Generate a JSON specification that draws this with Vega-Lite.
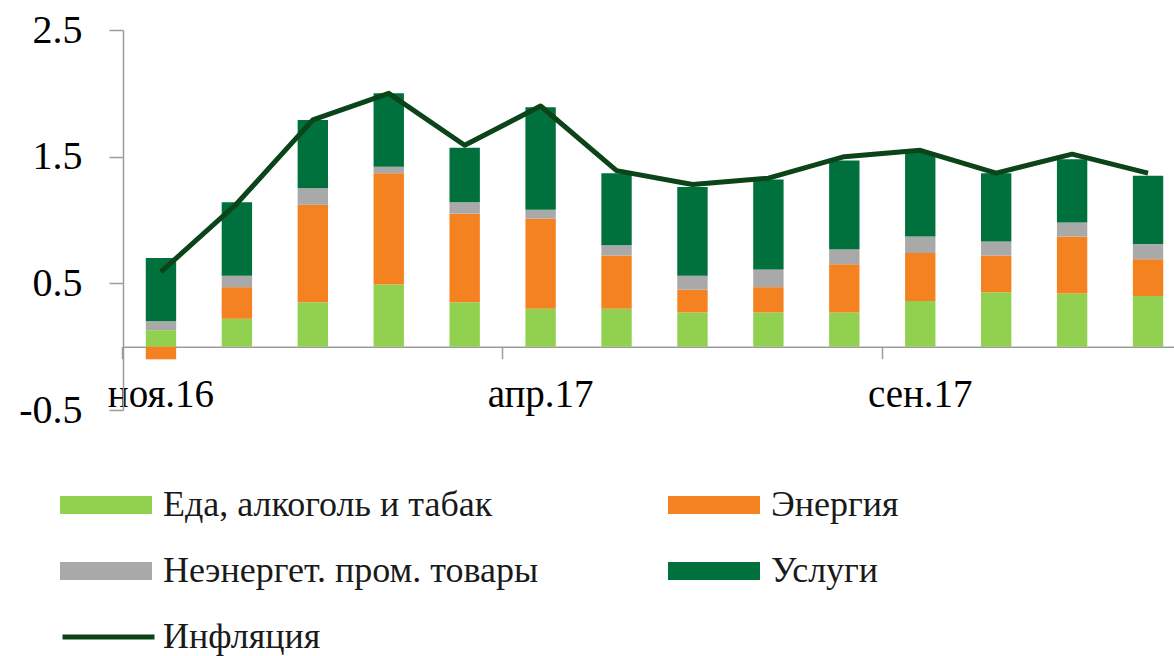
{
  "$schema": "https://vega.github.io/schema/vega-lite/v6.json",
  "width": 1051,
  "height": 380,
  "autosize": "none",
  "padding": {"left": 123, "top": 30, "right": 0, "bottom": 246},
  "background": "white",
  "config": {
    "view": {"stroke": null},
    "font": "Liberation Serif",
    "axis": {"grid": false, "domainColor": "#9c9c9c", "tickColor": "#9c9c9c", "domainWidth": 1.5, "tickWidth": 1.5, "labelFont": "Liberation Serif", "labelColor": "#000000", "titleFont": "Liberation Serif"},
    "legend": {"labelFont": "Liberation Serif", "labelColor": "#1a1a1a"}
  },
  "datasets": {
    "bars": [
      {"month": "ноя.16", "cat": "Еда, алкоголь и табак", "value": 0.13},
      {"month": "ноя.16", "cat": "Энергия", "value": -0.10},
      {"month": "ноя.16", "cat": "Неэнергет. пром. товары", "value": 0.07},
      {"month": "ноя.16", "cat": "Услуги", "value": 0.50},
      {"month": "дек.16", "cat": "Еда, алкоголь и табак", "value": 0.22},
      {"month": "дек.16", "cat": "Энергия", "value": 0.25},
      {"month": "дек.16", "cat": "Неэнергет. пром. товары", "value": 0.09},
      {"month": "дек.16", "cat": "Услуги", "value": 0.58},
      {"month": "янв.17", "cat": "Еда, алкоголь и табак", "value": 0.35},
      {"month": "янв.17", "cat": "Энергия", "value": 0.77},
      {"month": "янв.17", "cat": "Неэнергет. пром. товары", "value": 0.13},
      {"month": "янв.17", "cat": "Услуги", "value": 0.54},
      {"month": "фев.17", "cat": "Еда, алкоголь и табак", "value": 0.49},
      {"month": "фев.17", "cat": "Энергия", "value": 0.88},
      {"month": "фев.17", "cat": "Неэнергет. пром. товары", "value": 0.05},
      {"month": "фев.17", "cat": "Услуги", "value": 0.58},
      {"month": "мар.17", "cat": "Еда, алкоголь и табак", "value": 0.35},
      {"month": "мар.17", "cat": "Энергия", "value": 0.70},
      {"month": "мар.17", "cat": "Неэнергет. пром. товары", "value": 0.09},
      {"month": "мар.17", "cat": "Услуги", "value": 0.43},
      {"month": "апр.17", "cat": "Еда, алкоголь и табак", "value": 0.30},
      {"month": "апр.17", "cat": "Энергия", "value": 0.71},
      {"month": "апр.17", "cat": "Неэнергет. пром. товары", "value": 0.07},
      {"month": "апр.17", "cat": "Услуги", "value": 0.81},
      {"month": "май.17", "cat": "Еда, алкоголь и табак", "value": 0.30},
      {"month": "май.17", "cat": "Энергия", "value": 0.42},
      {"month": "май.17", "cat": "Неэнергет. пром. товары", "value": 0.08},
      {"month": "май.17", "cat": "Услуги", "value": 0.57},
      {"month": "июн.17", "cat": "Еда, алкоголь и табак", "value": 0.27},
      {"month": "июн.17", "cat": "Энергия", "value": 0.18},
      {"month": "июн.17", "cat": "Неэнергет. пром. товары", "value": 0.11},
      {"month": "июн.17", "cat": "Услуги", "value": 0.70},
      {"month": "июл.17", "cat": "Еда, алкоголь и табак", "value": 0.27},
      {"month": "июл.17", "cat": "Энергия", "value": 0.20},
      {"month": "июл.17", "cat": "Неэнергет. пром. товары", "value": 0.14},
      {"month": "июл.17", "cat": "Услуги", "value": 0.71},
      {"month": "авг.17", "cat": "Еда, алкоголь и табак", "value": 0.27},
      {"month": "авг.17", "cat": "Энергия", "value": 0.38},
      {"month": "авг.17", "cat": "Неэнергет. пром. товары", "value": 0.12},
      {"month": "авг.17", "cat": "Услуги", "value": 0.70},
      {"month": "сен.17", "cat": "Еда, алкоголь и табак", "value": 0.36},
      {"month": "сен.17", "cat": "Энергия", "value": 0.38},
      {"month": "сен.17", "cat": "Неэнергет. пром. товары", "value": 0.13},
      {"month": "сен.17", "cat": "Услуги", "value": 0.66},
      {"month": "окт.17", "cat": "Еда, алкоголь и табак", "value": 0.43},
      {"month": "окт.17", "cat": "Энергия", "value": 0.29},
      {"month": "окт.17", "cat": "Неэнергет. пром. товары", "value": 0.11},
      {"month": "окт.17", "cat": "Услуги", "value": 0.54},
      {"month": "ноя.17", "cat": "Еда, алкоголь и табак", "value": 0.42},
      {"month": "ноя.17", "cat": "Энергия", "value": 0.45},
      {"month": "ноя.17", "cat": "Неэнергет. пром. товары", "value": 0.11},
      {"month": "ноя.17", "cat": "Услуги", "value": 0.50},
      {"month": "дек.17", "cat": "Еда, алкоголь и табак", "value": 0.40},
      {"month": "дек.17", "cat": "Энергия", "value": 0.29},
      {"month": "дек.17", "cat": "Неэнергет. пром. товары", "value": 0.12},
      {"month": "дек.17", "cat": "Услуги", "value": 0.54}
    ],
    "infl": [
      {"month": "ноя.16", "value": 0.59},
      {"month": "дек.16", "value": 1.13},
      {"month": "янв.17", "value": 1.79},
      {"month": "фев.17", "value": 2.0},
      {"month": "мар.17", "value": 1.59},
      {"month": "апр.17", "value": 1.90},
      {"month": "май.17", "value": 1.39},
      {"month": "июн.17", "value": 1.28},
      {"month": "июл.17", "value": 1.33},
      {"month": "авг.17", "value": 1.50},
      {"month": "сен.17", "value": 1.55},
      {"month": "окт.17", "value": 1.37},
      {"month": "ноя.17", "value": 1.52},
      {"month": "дек.17", "value": 1.37}
    ]
  },
  "encoding": {
    "x": {
      "field": "month",
      "type": "ordinal",
      "sort": null,
      "scale": {"paddingInner": 0.6, "paddingOuter": 0.3, "range": [0, 1063]},
      "axis": {
        "title": null,
        "values": ["ноя.16", "апр.17", "сен.17"],
        "bandPosition": -0.75,
        "labelOffset": 0,
        "offset": -63.3,
        "tickSize": 12,
        "labelPadding": 17,
        "labelFontSize": 39,
        "labelAngle": 0
      }
    }
  },
  "layer": [
    {
      "data": {"name": "bars"},
      "transform": [
        {"calculate": "indexof(['Еда, алкоголь и табак','Энергия','Неэнергет. пром. товары','Услуги'], datum.cat)", "as": "ord"}
      ],
      "mark": {"type": "bar"},
      "encoding": {
        "y": {
          "field": "value",
          "type": "quantitative",
          "stack": "zero",
          "scale": {"domain": [-0.5, 2.5], "nice": false, "zero": false},
          "axis": {
            "title": null,
            "values": [-0.5, 0.5, 1.5, 2.5],
            "labelExpr": "(datum.value < 0 ? '-' : '') + format(abs(datum.value), '.1f')",
            "tickSize": 14,
            "labelPadding": 27,
            "labelFontSize": 40
          }
        },
        "color": {
          "field": "cat",
          "type": "nominal",
          "sort": ["Еда, алкоголь и табак", "Неэнергет. пром. товары", "Энергия", "Услуги"],
          "scale": {
            "domain": ["Еда, алкоголь и табак", "Неэнергет. пром. товары", "Энергия", "Услуги"],
            "range": ["#92d050", "#a9a9a9", "#f58220", "#00703c"]
          },
          "legend": {
            "title": null,
            "orient": "none",
            "legendX": -63,
            "legendY": 455,
            "columns": 2,
            "columnPadding": 129,
            "rowPadding": 26,
            "clipHeight": 40,
            "symbolType": "M-1,-0.196H1V0.196H-1Z",
            "symbolSize": 8464,
            "symbolStrokeWidth": 0,
            "symbolOpacity": 1,
            "labelFontSize": 36,
            "labelOffset": 11,
            "labelLimit": 600
          }
        },
        "order": {"field": "ord", "type": "quantitative"}
      }
    },
    {
      "data": {"name": "infl"},
      "mark": {"type": "line", "strokeWidth": 5, "strokeJoin": "round"},
      "encoding": {
        "y": {"field": "value", "type": "quantitative"},
        "stroke": {
          "datum": "Инфляция",
          "scale": {"range": ["#0b4418"]},
          "legend": {
            "title": null,
            "orient": "none",
            "legendX": -63,
            "legendY": 587,
            "clipHeight": 40,
            "symbolType": "stroke",
            "symbolSize": 8464,
            "symbolStrokeWidth": 5,
            "labelFontSize": 36,
            "labelOffset": 6,
            "labelLimit": 600
          }
        }
      }
    }
  ]
}
